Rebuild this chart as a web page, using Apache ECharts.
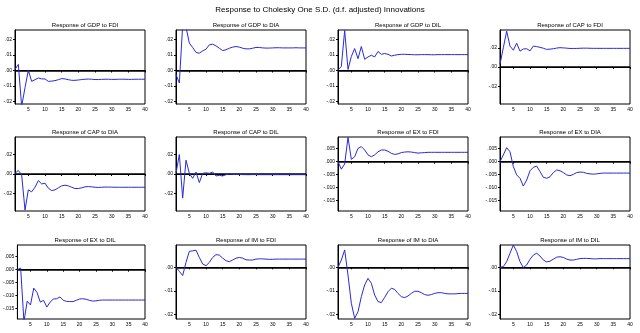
<!DOCTYPE html>
<html>
<head>
<meta charset="utf-8">
<script src="https://cdn.jsdelivr.net/npm/echarts@6/dist/echarts.min.js"></script>
<style>html,body{margin:0;padding:0;background:#fff}#c{width:640px;height:333px}</style>
</head>
<body>
<div id="c"></div>
<script>
const mainTitle = 'Response to Cholesky One S.D. (d.f. adjusted) Innovations';
const titles = [
  'Response of GDP to FDI','Response of GDP to DIA','Response of GDP to DIL','Response of CAP to FDI',
  'Response of CAP to DIA','Response of CAP to DIL','Response of EX to FDI','Response of EX to DIA',
  'Response of EX to DIL','Response of IM to FDI','Response of IM to DIA','Response of IM to DIL'
];
const periods = Array.from({length:40}, (_, i) => i + 1);
const xTicks = [5,10,15,20,25,30,35,40];

const gdpFdi = [0.0007,0.0039,-0.023,-0.011,0.0002,-0.0070,-0.0059,-0.0048,-0.0054,-0.0054,-0.0070,-0.0068,-0.0065,-0.0059,-0.0052,-0.0054,-0.0059,-0.0063,-0.0063,-0.0061,-0.0058,-0.0056,-0.0055,-0.0056,-0.0058,-0.0058,-0.0057,-0.0056,-0.0056,-0.0057,-0.0057,-0.0056,-0.0056,-0.0056,-0.0057,-0.0057,-0.0056,-0.0056,-0.0056,-0.0056];
const gdpDia = [-0.0026,-0.0080,0.029,0.028,0.0176,0.0148,0.0116,0.0111,0.0126,0.0137,0.0165,0.0169,0.0158,0.0143,0.0128,0.0133,0.0143,0.0150,0.0154,0.0150,0.0143,0.0139,0.0139,0.0143,0.0148,0.0148,0.0145,0.0144,0.0144,0.0145,0.0146,0.0146,0.0145,0.0145,0.0145,0.0145,0.0146,0.0145,0.0145,0.0145];
const gdpDil = [0.0004,0.0026,0.0257,0.0007,0.0090,0.0141,0.0076,0.0154,0.0072,0.0087,0.0098,0.0087,0.0122,0.0104,0.0109,0.0104,0.0093,0.0098,0.0102,0.0104,0.0104,0.0103,0.0102,0.0101,0.0101,0.0102,0.0102,0.0102,0.0101,0.0101,0.0102,0.0102,0.0102,0.0102,0.0102,0.0102,0.0102,0.0102,0.0102,0.0102];
const capFdi = [0.0030,0.0200,0.0373,0.0217,0.0175,0.0248,0.0165,0.0188,0.0190,0.0168,0.0218,0.0212,0.0205,0.0195,0.0183,0.0186,0.0190,0.0197,0.0201,0.0199,0.0196,0.0193,0.0193,0.0193,0.0195,0.0196,0.0196,0.0195,0.0194,0.0194,0.0194,0.0194,0.0194,0.0194,0.0194,0.0194,0.0194,0.0194,0.0194,0.0194];
const capDia = [0.0007,0.0037,-0.0010,-0.0370,-0.0163,-0.0183,-0.0136,-0.0068,-0.0102,-0.0095,-0.0146,-0.0170,-0.0163,-0.0142,-0.0122,-0.0115,-0.0122,-0.0136,-0.0149,-0.0149,-0.0142,-0.0132,-0.0129,-0.0132,-0.0136,-0.0138,-0.0136,-0.0134,-0.0134,-0.0135,-0.0136,-0.0136,-0.0136,-0.0136,-0.0136,-0.0136,-0.0136,-0.0136,-0.0136,-0.0136];
const capDil = [0.0007,0.0200,-0.0247,0.0142,0.0007,-0.0044,0.0020,-0.0088,0.0007,0.0012,0.0007,0.0020,-0.0020,-0.0014,-0.0020,-0.0007,0.0000,-0.0004,-0.0005,-0.0004,-0.0006,-0.0007,-0.0007,-0.0006,-0.0006,-0.0007,-0.0007,-0.0007,-0.0007,-0.0007,-0.0007,-0.0007,-0.0007,-0.0007,-0.0007,-0.0007,-0.0007,-0.0007,-0.0007,-0.0007];
const exFdi = [0.0000,-0.0029,-0.0009,0.0094,0.0009,0.0019,0.0051,0.0058,0.0045,0.0026,0.0019,0.0026,0.0038,0.0045,0.0045,0.0040,0.0032,0.0028,0.0030,0.0035,0.0037,0.0038,0.0037,0.0035,0.0033,0.0034,0.0035,0.0036,0.0036,0.0036,0.0036,0.0036,0.0036,0.0036,0.0036,0.0036,0.0036,0.0036,0.0036,0.0036];
const exDia = [0.0000,0.0026,0.0054,0.0038,-0.0019,-0.0051,-0.0064,-0.0094,-0.0071,-0.0035,-0.0022,-0.0017,-0.0038,-0.0060,-0.0064,-0.0058,-0.0042,-0.0032,-0.0035,-0.0042,-0.0051,-0.0054,-0.0049,-0.0042,-0.0040,-0.0041,-0.0045,-0.0047,-0.0048,-0.0047,-0.0045,-0.0044,-0.0044,-0.0044,-0.0044,-0.0044,-0.0044,-0.0044,-0.0044,-0.0044];
const exDil = [0.0000,0.0006,-0.0200,-0.0121,-0.0136,-0.0071,-0.0088,-0.0125,-0.0118,-0.0144,-0.0125,-0.0113,-0.0112,-0.0105,-0.0118,-0.0122,-0.0123,-0.0123,-0.0118,-0.0113,-0.0112,-0.0114,-0.0118,-0.0121,-0.0120,-0.0118,-0.0117,-0.0117,-0.0117,-0.0117,-0.0117,-0.0117,-0.0117,-0.0117,-0.0117,-0.0117,-0.0117,-0.0117,-0.0117,-0.0117];
const imFdi = [0.0000,-0.0017,-0.0035,0.0021,0.0068,0.0070,0.0073,0.0042,0.0014,0.0007,0.0021,0.0042,0.0054,0.0052,0.0039,0.0028,0.0024,0.0031,0.0039,0.0042,0.0039,0.0032,0.0031,0.0031,0.0035,0.0036,0.0036,0.0035,0.0034,0.0034,0.0035,0.0035,0.0035,0.0035,0.0035,0.0035,0.0035,0.0035,0.0035,0.0035];
const imDia = [0.0000,0.0031,0.0074,-0.0033,-0.0153,-0.0217,-0.0189,-0.0125,-0.0075,-0.0047,-0.0068,-0.0118,-0.0146,-0.0150,-0.0128,-0.0104,-0.0089,-0.0094,-0.0111,-0.0125,-0.0129,-0.0122,-0.0111,-0.0102,-0.0102,-0.0108,-0.0116,-0.0119,-0.0116,-0.0111,-0.0108,-0.0108,-0.0111,-0.0113,-0.0113,-0.0113,-0.0112,-0.0111,-0.0111,-0.0111];
const imDil = [0.0000,0.0003,0.0024,0.0060,0.0095,0.0067,0.0024,-0.0001,0.0010,0.0034,0.0052,0.0060,0.0048,0.0031,0.0023,0.0026,0.0035,0.0043,0.0045,0.0042,0.0035,0.0031,0.0031,0.0034,0.0037,0.0038,0.0038,0.0037,0.0036,0.0036,0.0037,0.0037,0.0037,0.0037,0.0037,0.0037,0.0037,0.0037,0.0037,0.0037];

const seriesData = [gdpFdi,gdpDia,gdpDil,capFdi,capDia,capDil,exFdi,exDia,exDil,imFdi,imDia,imDil];

const gdpTicks = [-0.02,-0.01,0,0.01,0.02];
const capTicks = [-0.02,0,0.02];
const exTicks = [-0.015,-0.010,-0.005,0,0.005];
const imTicks = [-0.02,-0.01,0];

const yScales = [
  {min:-0.0215,max:0.026,ticks:gdpTicks,dec:2},
  {min:-0.0215,max:0.026,ticks:gdpTicks,dec:2},
  {min:-0.0215,max:0.026,ticks:gdpTicks,dec:2},
  {min:-0.0385,max:0.0385,ticks:capTicks,dec:2},
  {min:-0.038,max:0.038,ticks:capTicks,dec:2},
  {min:-0.038,max:0.038,ticks:capTicks,dec:2},
  {min:-0.019,max:0.0095,ticks:exTicks,dec:3},
  {min:-0.019,max:0.0095,ticks:exTicks,dec:3},
  {min:-0.019,max:0.0095,ticks:exTicks,dec:3},
  {min:-0.022,max:0.0095,ticks:imTicks,dec:2},
  {min:-0.022,max:0.0095,ticks:imTicks,dec:2},
  {min:-0.022,max:0.0095,ticks:imTicks,dec:2}
];

const colLeft = [15,176,338,500];
const rowTop = [30,137,245];
const W = 130, H = 74;

function fmt(v, d){
  const s = Math.abs(v).toFixed(d).replace(/^0/, '');
  return (v < -1e-12 ? '-' : '') + s;
}

const grid = [], xAxis = [], yAxis = [], series = [];
const title = [{text: mainTitle, left: 'center', top: 1, textStyle:{fontFamily:'Liberation Sans, Arial', fontSize:8, fontWeight:'normal', color:'#000'}}];

for (let k = 0; k < 12; k++){
  const r = Math.floor(k/4), c = k%4;
  const left = colLeft[c], top = rowTop[r];
  grid.push({left:left, top:top, width:W, height:H, show:true, borderColor:'#000', borderWidth:1, backgroundColor:'#fff'});
  title.push({text: titles[k], left: left + W/2, top: top - 13, textAlign:'center',
    textStyle:{fontFamily:'Liberation Sans, Arial', fontSize:6, fontWeight:'normal', color:'#000'}});
  xAxis.push({type:'value', gridIndex:k, min:1, max:40,
    axisLine:{show:true, lineStyle:{color:'#000', width:1}},
    axisTick:{show:true, length:2, customValues:xTicks, lineStyle:{color:'#000'}},
    axisLabel:{customValues:xTicks, fontSize:5, color:'#000', margin:3, fontFamily:'Liberation Sans, Arial'},
    splitLine:{show:false}});
  const ys = yScales[k];
  yAxis.push({type:'value', gridIndex:k, min:ys.min, max:ys.max,
    axisLine:{show:true, lineStyle:{color:'#000', width:1}},
    axisTick:{show:true, length:2, customValues:ys.ticks, lineStyle:{color:'#000'}},
    axisLabel:{customValues:ys.ticks, fontSize:5, color:'#000', margin:3, fontFamily:'Liberation Sans, Arial',
      formatter:(v)=>fmt(v, ys.dec)},
    splitLine:{show:false}});
  series.push({type:'line', xAxisIndex:k, yAxisIndex:k, showSymbol:false, symbol:'none',
    data: periods.map((p,i)=>[p, seriesData[k][i]]),
    lineStyle:{color:'#2a2ad6', width:1}, clip:true, z:3,
    markLine:{silent:true, symbol:'none', label:{show:false},
      lineStyle:{color:'#000', width:1.6, type:'solid'}, data:[{yAxis:0}], z:2}});
}

const chart = echarts.init(document.getElementById('c'), null, {renderer:'canvas'});
chart.setOption({animation:false, backgroundColor:'#fff', title, grid, xAxis, yAxis, series});
</script>
</body>
</html>
